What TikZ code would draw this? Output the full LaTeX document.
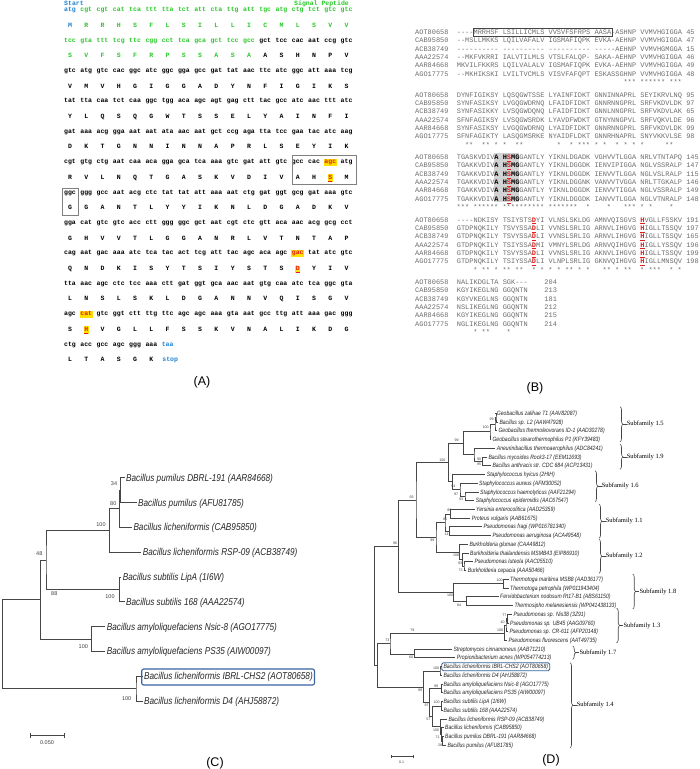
\documentclass[tikz,border=0pt]{standalone}
\usepackage{fontspec}
\usetikzlibrary{decorations.pathreplacing}
\newfontfamily\seqfont{Liberation Mono}
\newfontfamily\treefont{Liberation Sans}[FakeStretch=0.82]
\newfontfamily\panelfont{Liberation Sans}
\newfontfamily\famfont{Liberation Serif}
\definecolor{sigGreen}{RGB}{40,200,40}
\definecolor{stBlue}{RGB}{30,130,210}
\definecolor{hlYellow}{RGB}{255,225,0}
\definecolor{hlRed}{RGB}{225,30,30}
\definecolor{alnGray}{RGB}{110,110,110}
\definecolor{brGray}{RGB}{70,70,70}
\definecolor{boxBlue}{RGB}{55,100,160}
% highlighted codon / residue
\newcommand\hlc[1]{{\setlength\fboxsep{0.6pt}\colorbox{hlYellow}{\color{hlRed}\vphantom{tg}#1}}}
\newcommand\hla[1]{{\setlength\fboxsep{0.6pt}\colorbox{hlYellow}{\color{hlRed}\underline{#1}}}}
\newcommand\blk[1]{\textcolor{black}{#1}}
% alignment marks
\newcommand\hb[1]{{\bfseries\color{black}#1}}
\newcommand\hs[1]{{\bfseries\color{hlRed}\underline{#1}}}
% one codon row and its residue row
\newcommand\dnarow[4][]{%
  \foreach \cod [count=\i from 0] in {#3}
    \node[nt,#1] (n#2-\i) at ({70+16.27*\i},{10+30.4*#2}) {\cod};
  \foreach \res [count=\i from 0] in {#4}
    \node[aa,#1] (p#2-\i) at ({70+16.27*\i},{25.2+30.4*#2}) {\res};}
% conserved columns
\newcommand\starrow[3]{%
  \foreach \col in {#3}
    \node[aln,anchor=center] (st#1-\col) at ({456.7+(\col+0.5)*4.17},#2) {*};}
\begin{document}
\begin{tikzpicture}[x=1pt, y=-1pt,
  nt/.style={font={\seqfont\bfseries\fontsize{6.5}{7}\selectfont}, inner sep=0pt, text height=3.4pt, text depth=0pt},
  aa/.style={nt, text height=4.3pt},
  sig/.style={text=sigGreen},
  aln/.style={font={\seqfont\fontsize{6.95}{8}\selectfont}, text=alnGray, inner sep=0pt, anchor=west, text height=4.6pt, text depth=0pt},
  branch/.style={draw=brGray, line width=0.6pt},
  leafC/.style={font={\treefont\itshape\fontsize{10}{12}\selectfont}, anchor=west, inner xsep=1.5pt, inner ysep=0pt, text height=7.2pt, text depth=0pt, text=black!85},
  leafD/.style={leafC, font={\treefont\itshape\fontsize{6.2}{7}\selectfont}, text height=4.4pt},
  bsC/.style={font={\panelfont\fontsize{5.5}{6}\selectfont}, text=black!75, inner sep=0pt},
  bsD/.style={bsC, font={\panelfont\fontsize{3.6}{4}\selectfont}},
  fam/.style={font={\famfont\fontsize{6.5}{7}\selectfont}, anchor=west, inner sep=0pt},
  brc/.style={decorate, decoration={brace, amplitude=3pt}, draw=brGray, line width=0.6pt},
  panel/.style={font={\panelfont\fontsize{12.5}{14}\selectfont}, inner sep=0pt}]
\useasboundingbox (0,0) rectangle (700,769);
\fill[white] (0,0) rectangle (700,769);

% ---------------- (A) nucleotide and protein sequence
\node[aa, anchor=west, text=stBlue] (start) at (64,3.5) {Start};
\node[aa, anchor=west, text=sigGreen] (sigpep) at (294,3.5) {Signal Peptide};
\dnarow[sig]{0}{{\color{stBlue}atg},cgt,cgt,cat,tca,ttt,tta,tct,att,cta,ttg,att,tgc,atg,ctg,tct,gtc,gtc}
  {{\color{stBlue}M},R,R,H,S,F,L,S,I,L,L,I,C,M,L,S,V,V}
\dnarow[sig]{1}{tcc,gta,ttt,tcg,ttc,cgg,cct,tca,gca,gct,tcc,gcc,\blk{gct},\blk{tcc},\blk{cac},\blk{aat},\blk{ccg},\blk{gtc}}
  {S,V,F,S,F,R,P,S,S,A,S,A,\blk{A},\blk{S},\blk{H},\blk{N},\blk{P},\blk{V}}
\dnarow{2}{gtc,atg,gtc,cac,ggc,atc,ggc,gga,gcc,gat,tat,aac,ttc,atc,ggc,att,aaa,tcg}
  {V,M,V,H,G,I,G,G,A,D,Y,N,F,I,G,I,K,S}
\dnarow{3}{tat,tta,caa,tct,caa,ggc,tgg,aca,agc,agt,gag,ctt,tac,gcc,atc,aac,ttt,atc}
  {Y,L,Q,S,Q,G,W,T,S,S,E,L,Y,A,I,N,F,I}
\dnarow{4}{gat,aaa,acg,gga,aat,aat,ata,aac,aat,gct,ccg,aga,tta,tcc,gaa,tac,atc,aag}
  {D,K,T,G,N,N,I,N,N,A,P,R,L,S,E,Y,I,K}
\dnarow{5}{cgt,gtg,ctg,aat,caa,aca,gga,gca,tca,aaa,gtc,gat,att,gtc,gcc,cac,\hlc{agc},atg}
  {R,V,L,N,Q,T,G,A,S,K,V,D,I,V,A,H,\hla{S},M}
\dnarow{6}{ggc,ggg,gcc,aat,acg,ctc,tat,tat,att,aaa,aat,ctg,gat,ggt,gcg,gat,aaa,gtc}
  {G,G,A,N,T,L,Y,Y,I,K,N,L,D,G,A,D,K,V}
\dnarow{7}{gga,cat,gtc,gtc,acc,ctt,ggg,ggc,gct,aat,cgt,ctc,gtt,aca,aac,acg,gcg,cct}
  {G,H,V,V,T,L,G,G,A,N,R,L,V,T,N,T,A,P}
\dnarow{8}{cag,aat,gac,aaa,atc,tca,tac,act,tcg,att,tac,agc,aca,agc,\hlc{gac},tat,atc,gtc}
  {Q,N,D,K,I,S,Y,T,S,I,Y,S,T,S,\hla{D},Y,I,V}
\dnarow{9}{tta,aac,agc,ctc,tcc,aaa,ctt,gat,ggt,gca,aac,aat,gtg,caa,atc,tca,ggc,gta}
  {L,N,S,L,S,K,L,D,G,A,N,N,V,Q,I,S,G,V}
\dnarow{10}{agc,\hlc{cat},gtc,ggt,ctt,ttg,ttc,agc,agc,aaa,gta,aat,gcc,ttg,att,aaa,gac,ggg}
  {S,\hla{H},V,G,L,L,F,S,S,K,V,N,A,L,I,K,D,G}
\dnarow{11}{ctg,acc,gcc,agc,ggg,aaa,{\color{stBlue}taa}}{L,T,A,S,G,K}
\node[aa, anchor=west, text=stBlue] (stop) at (162.2,359.6) {stop};
\draw[gray, line width=0.7pt] (292,155) rectangle (356,184);
\draw[gray, line width=0.7pt] (62,188) rectangle (78,215);
\node[panel] (labA) at (202,382) {(A)};

% ---------------- (B) alignment
\fill[gray!35] (494,153) rectangle (519.4,202);
\foreach \s [count=\r from 0] in {
  {AOT80658~~----MRRHSF LSILLICMLS VVSVFSFRPS AASA-ASHNP VVMVHGIGGA 45},
  {CAB95850~~--MSLLMKKS LQILVAFALV IGSMAFIQPK EVKA-AEHNP VVMVHGIGGA 47},
  {ACB38749~~---------- ---------- ---------- -----AEHNP VVMVHGMGGA 15},
  {AAA22574~~--MKFVKRRI IALVTILMLS VTSLFALQP- SAKA-AEHNP VVMVHGIGGA 46},
  {AAR84668~~MKVILFKKRS LQILVALALV IGSMAFIQPK EVKA-AEHNP VVMVHGIGGA 49},
  {AGO17775~~--MKHIKSKI LVILTVCMLS VISVFAFQPT ESKASSGHNP VVMVHGIGGA 48}}
  \node[aln] (a0-\r) at (415,{32.3+8.33*\r}) {\s};
\starrow{0}{82.3}{40,41,42,44,45,46,47,48,49,51,52,53}
\draw[brGray, line width=0.6pt] (473,28.3) rectangle (612,36.7);
\foreach \s [count=\r from 0] in {
  {AOT80658~~DYNFIGIKSY LQSQGWTSSE LYAINFIDKT GNNINNAPRL SEYIKRVLNQ 95},
  {CAB95850~~SYNFASIKSY LVGQGWDRNQ LFAIDFIDKT GNNRNNGPRL SRFVKDVLDK 97},
  {ACB38749~~SYNFASIKKY LVSQGWDQNQ LFAIDFIDKT GNNLNNGPRL SRFVKDVLAK 65},
  {AAA22574~~SFNFAGIKSY LVSQGWSRDK LYAVDFWDKT GTNYNNGPVL SRFVQKVLDE 96},
  {AAR84668~~SYNFASIKSY LVGQGWDRNQ LYAIDFIDKT GNNRNNGPRL SRFVKDVLDK 99},
  {AGO17775~~SFNFAGIKTY LASQGMSRKE NYAIDFLDKT GNNRHNAPRL SNYVKKVLSE 98}}
  \node[aln] (a1-\r) at (415,{94.8+8.33*\r}) {\s};
\starrow{1}{144.8}{2,3,6,7,9,11,14,15,24,27,29,30,31,33,35,38,40,42,44,50,51}
\foreach \s [count=\r from 0] in {
  {AOT80658~~TGASKVDIV\hb{A} \hb{H}\hs{S}\hb{MG}GANTLY YIKNLDGADK VGHVVTLGGA NRLVTNTAPQ 145},
  {CAB95850~~TGAKKVDIV\hb{A} \hb{H}\hs{S}\hb{MG}GANTLY YIKNLDGGDK IENVIPIGGA NGLVSSRALP 147},
  {ACB38749~~TGAKKVDIV\hb{A} \hb{H}\hs{S}\hb{MG}GANTLY YIKNLDGGDK IENVVTLGGA NGLVSLRALP 115},
  {AAA22574~~TGAKKVDIV\hb{A} \hb{H}\hs{S}\hb{MG}GANTLY YIKNLDGGNK VANVVTVGGA NRLTTGKALP 146},
  {AAR84668~~TGAKKVDIV\hb{A} \hb{H}\hs{S}\hb{MG}GANTLY YIKNLDGGDK IENVVTIGGA NGLVSSRALP 149},
  {AGO17775~~TGAKKVDIV\hb{A} \hb{H}\hs{S}\hb{MG}GANTLY YIKNLDGGDK IANVVTLGGA NGLVTNRALP 148}}
  \node[aln] (a2-\r) at (415,{157.3+8.33*\r}) {\s};
\starrow{2}{207.3}{0,1,2,4,5,6,7,8,9,11,12,13,14,15,16,17,18,19,20,22,23,24,25,26,27,28,31,36,40,41,42,44,46,51}
\foreach \s [count=\r from 0] in {
  {AOT80658~~----NDKISY TSIYSTS\hs{D}YI VLNSLSKLDG AMNVQISGVS \hs{H}VGLLFSSKV 191},
  {CAB95850~~GTDPNQKILY TSVYSSA\hs{D}LI VVNSLSRLIG ARNVLIHGVG \hs{H}IGLLTSSQV 197},
  {ACB38749~~GTDPNQKILY TSVYSSA\hs{D}LI VVNSLSRLIG ARNVLIHGVG \hs{H}IGLLTSSQV 165},
  {AAA22574~~GTDPNQKILY TSIYSSA\hs{D}MI VMNYLSRLDG ARNVQIHGVG \hs{H}IGLLYSSQV 196},
  {AAR84668~~GTDPNQKILY TSVYSSA\hs{D}LI VVNSLSRLIG AKNVLIHGVG \hs{H}IGLLTSSQV 199},
  {AGO17775~~GTDPNQKILY TSIYSSA\hs{D}LI VLNPLSRLIG GKNVQIHGVG \hs{H}IGLLMNSQV 198}}
  \node[aln] (a3-\r) at (415,{219.8+8.33*\r}) {\s};
\starrow{3}{269.8}{4,6,7,9,11,12,14,15,18,20,22,24,26,27,29,31,35,36,38,40,41,44,46,47,48,51,53}
\foreach \s [count=\r from 0] in {
  {AOT80658~~NALIKDGLTA SGK---~~~~204},
  {CAB95850~~KGYIKEGLNG GGQNTN~~~~213},
  {ACB38749~~KGYVKEGLNS GGQNTN~~~~181},
  {AAA22574~~NSLIKEGLNG GGQNTN~~~~212},
  {AAR84668~~KGYIKEGLNG GGQNTN~~~~215},
  {AGO17775~~NGLIKEGLNG GGQNTN~~~~214}}
  \node[aln] (a4-\r) at (415,{282.3+8.33*\r}) {\s};
\starrow{4}{332.3}{4,6,7,12}
\node[panel] (labB) at (535,388) {(B)};

% ---------------- (C) tree of the Bacillus lipases
\foreach \tx/\lab [count=\i] in {126/{Bacillus pumilus DBRL-191 (AAR84668)},
  138/{Bacillus pumilus (AFU81785)}, 133.3/{Bacillus licheniformis (CAB95850)},
  142.7/{Bacillus licheniformis RSP-09 (ACB38749)}, 122.7/{Bacillus subtilis LipA (1I6W)},
  126/{Bacillus subtilis 168 (AAA22574)}, 106.7/{Bacillus amyloliquefaciens Nsic-8 (AGO17775)},
  106.7/{Bacillus amyloliquefaciens PS35 (AIW00097)}, 144/{Bacillus licheniformis IBRL-CHS2 (AOT80658)},
  144/{Bacillus licheniformis D4 (AHJ58872)}}
  {\coordinate (c\i) at ({\tx-1.5},{477.7+24.8*(\i-1)});
   \node[leafC] (ct\i) at (c\i) {\lab};}
\coordinate (cn12) at (120.3,490.1);
\coordinate (cn123) at (119.3,508.7);
\coordinate (cn1234) at (109.3,530.4);
\coordinate (cn56) at (119.3,589.3);
\coordinate (cn16) at (46,559.9);
\coordinate (cn78) at (91.7,638.9);
\coordinate (cn18) at (40.7,599.4);
\coordinate (cn910) at (136,688.5);
\coordinate (cnroot) at (2.7,644);
\draw[branch] (c1) -| (cn12) |- (c2);
\draw[branch] (cn12) -| (cn123) |- (c3);
\draw[branch] (cn123) -| (cn1234) |- (c4);
\draw[branch] (c5) -| (cn56) |- (c6);
\draw[branch] (cn1234) -| (cn16) |- (cn56);
\draw[branch] (c7) -| (cn78) |- (c8);
\draw[branch] (cn16) -| (cn18) |- (cn78);
\draw[branch] (c9) -| (cn910) |- (c10);
\draw[branch] (cn18) -| (cnroot) |- (cn910);
\node[bsC] (bc1) at (114,483.3) {34};
\node[bsC] (bc2) at (113.3,503.3) {80};
\node[bsC] (bc3) at (101,525) {100};
\node[bsC] (bc4) at (39.3,554) {48};
\node[bsC] (bc5) at (54.3,594) {88};
\node[bsC] (bc6) at (110,596.7) {100};
\node[bsC] (bc7) at (83.3,646.7) {100};
\node[bsC] (bc8) at (126.7,699) {100};
\draw[boxBlue, line width=1.1pt, rounded corners=2pt] (141.7,669) rectangle (ct9.east |- 0,685);
\coordinate (sc1) at (30,735);
\coordinate (sc2) at (64,735);
\draw[branch] (sc1) -- (sc2);
\draw[branch] ([yshift=-2.5pt]sc1) -- ([yshift=2.5pt]sc1);
\draw[branch] ([yshift=-2.5pt]sc2) -- ([yshift=2.5pt]sc2);
\node[bsC] (scC) at (47,743) {0.050};
\node[panel] (labC) at (215,763) {(C)};

% ---------------- (D) tree of the lipase families
\foreach \tx/\lab [count=\i] in {496.7/{Geobacillus zalihae T1 (AAV82087)},
  499.3/{Bacillus sp. L2 (AAW47928)}, 498.3/{Geobacillus thermoleovorans ID-1 (AAD30278)},
  492.3/{Geobacillus stearothermophilus P1 (KFY39483)}, 496.7/{Aneurinibacillus thermoaerophilus (ADC84241)},
  488.3/{Bacillus mycoides Rock3-17 (EEM11693)}, 492.3/{Bacillus anthracis str. CDC 684 (ACP13431)},
  486.7/{Staphylococcus hyicus (2HIH)}, 479/{Staphylococcus aureus (AFM30052)},
  480/{Staphylococcus haemolyticus (AAF21294)}, 475.7/{Staphylococcus epidermidis (AAC67547)},
  476/{Yersinia enterocolitica (AAD25359)}, 471.7/{Proteus vulgaris (AAB61675)},
  483.3/{Pseudomonas fragi (WP016781340)}, 492.3/{Pseudomonas aeruginosa (ACA49548)},
  469.3/{Burkholderia glumae (CAA49812)}, 470/{Burkholderia thailandensis MSMB43 (EIP86910)},
  474.3/{Pseudomonas luteola (AAC05510)}, 467.7/{Burkholderia cepacia (AAA50466)},
  510/{Thermotoga maritima MSB8 (AAD36177)}, 510/{Thermotoga petrophila (WP011943404)},
  500/{Fervidobacterium nodosum Rt17-B1 (ABS61150)}, 514.3/{Thermosipho melanesiensis (WP041438133)},
  513.3/{Pseudomonas sp. Nis38 (3Z91)}, 510/{Pseudomonas sp. UB45 (AAG09760)},
  509.3/{Pseudomonas sp. CR-611 (AFP20148)}, 508.3/{Pseudomonas fluorescens (AAT49735)},
  453.3/{Streptomyces cinnamoneus (AAB71210)}, 456.7/{Propionibacterium acnes (WP054774213)},
  443.3/{Bacillus licheniformis IBRL-CHS2 (AOT80658)}, 443.3/{Bacillus licheniformis D4 (AHJ58872)},
  443.3/{Bacillus amyloliquefaciens Nsic-8 (AGO17775)}, 443.3/{Bacillus amyloliquefaciens PS35 (AIW00097)},
  443.3/{Bacillus subtilis LipA (1I6W)}, 443.3/{Bacillus subtilis 168 (AAA22574)},
  448.3/{Bacillus licheniformis RSP-09 (ACB38749)}, 445/{Bacillus licheniformis (CAB95850)},
  445/{Bacillus pumilus DBRL-191 (AAR84668)}, 447.3/{Bacillus pumilus (AFU81785)}}
  {\coordinate (d\i) at ({\tx-1.5},{413.3+8.73*(\i-1)});
   \node[leafD] (dt\i) at (d\i) {\lab};}
\coordinate (D12) at (496,417.7);
\coordinate (D13) at (495,424.2);
\coordinate (D14) at (490,431.6);
\coordinate (D67) at (482.3,461);
\coordinate (D57) at (474,454.4);
\coordinate (D17) at (463.3,443);
\coordinate (D1011) at (465,496);
\coordinate (D911) at (460,489.4);
\coordinate (D811) at (452.7,481.7);
\coordinate (D111) at (448.3,462.4);
\coordinate (D1213) at (450.7,514);
\coordinate (D1415) at (449.3,531.4);
\coordinate (D1215) at (445,522.7);
\coordinate (D1819) at (464,566);
\coordinate (D1719) at (462.3,559.5);
\coordinate (D1619) at (459.3,551.9);
\coordinate (D1219) at (436,537.3);
\coordinate (DX1) at (416,499.9);
\coordinate (D2021) at (503.3,583.4);
\coordinate (D2223) at (466.7,601);
\coordinate (D2023) at (453.3,592.2);
\coordinate (DX2) at (398.3,546);
\coordinate (D2425) at (507.5,618.7);
\coordinate (D2426) at (506,625.3);
\coordinate (D2427) at (504.5,633);
\coordinate (D2829) at (414.3,654);
\coordinate (DY) at (390,643.5);
\coordinate (D3031) at (440,671.3);
\coordinate (D3233) at (441.7,688.5);
\coordinate (D3435) at (441.7,706);
\coordinate (D3839) at (442.5,740.9);
\coordinate (D3739) at (441.5,734.3);
\coordinate (D3639) at (440.5,726.6);
\coordinate (DS) at (432.5,716.3);
\coordinate (DR) at (429.5,702.4);
\coordinate (DB) at (423.3,686.9);
\coordinate (DQ) at (377.7,665.2);
\coordinate (Droot) at (374.3,605.6);
\draw[branch] (d1) -| (D12) |- (d2);
\draw[branch] (D12) -| (D13) |- (d3);
\draw[branch] (D13) -| (D14) |- (d4);
\draw[branch] (d6) -| (D67) |- (d7);
\draw[branch] (d5) -| (D57) |- (D67);
\draw[branch] (D14) -| (D17) |- (D57);
\draw[branch] (d10) -| (D1011) |- (d11);
\draw[branch] (d9) -| (D911) |- (D1011);
\draw[branch] (d8) -| (D811) |- (D911);
\draw[branch] (D17) -| (D111) |- (D811);
\draw[branch] (d12) -| (D1213) |- (d13);
\draw[branch] (d14) -| (D1415) |- (d15);
\draw[branch] (D1213) -| (D1215) |- (D1415);
\draw[branch] (d18) -| (D1819) |- (d19);
\draw[branch] (d17) -| (D1719) |- (D1819);
\draw[branch] (d16) -| (D1619) |- (D1719);
\draw[branch] (D1215) -| (D1219) |- (D1619);
\draw[branch] (D111) -| (DX1) |- (D1219);
\draw[branch] (d20) -| (D2021) |- (d21);
\draw[branch] (d22) -| (D2223) |- (d23);
\draw[branch] (D2021) -| (D2023) |- (D2223);
\draw[branch] (DX1) -| (DX2) |- (D2023);
\draw[branch] (d24) -| (D2425) |- (d25);
\draw[branch] (D2425) -| (D2426) |- (d26);
\draw[branch] (D2426) -| (D2427) |- (d27);
\draw[branch] (d28) -| (D2829) |- (d29);
\draw[branch] (D2427) -| (DY) |- (D2829);
\draw[branch] (d30) -| (D3031) |- (d31);
\draw[branch] (d32) -| (D3233) |- (d33);
\draw[branch] (d34) -| (D3435) |- (d35);
\draw[branch] (d38) -| (D3839) |- (d39);
\draw[branch] (d37) -| (D3739) |- (D3839);
\draw[branch] (d36) -| (D3639) |- (D3739);
\draw[branch] (D3435) -| (DS) |- (D3639);
\draw[branch] (D3233) -| (DR) |- (DS);
\draw[branch] (D3031) -| (DB) |- (DR);
\draw[branch] (DY) -| (DQ) |- (DB);
\draw[branch] (DX2) -| (Droot) |- (DQ);
\foreach \bx/\by/\bv [count=\i] in {491.7/419/99, 485.7/427.7/100, 456.7/440/99, 479/459/90,
  479/464/95, 442.3/460/100, 453.3/486/94, 456/494.3/97, 461/499/93, 411.7/497.5/93,
  449.3/510.7/85, 445/519/81, 446.7/534/14, 432.3/540/99, 456/555.7/100, 460/563/93,
  460.7/570/73, 395/543.3/96, 499.5/580.5/100, 450/595.5/100,
  459/605/84, 504.3/615/77, 502.7/622.7/40, 500/630.7/100, 412.3/630.7/79,
  387.3/640/73, 411/657/60, 436/668.3/100, 436/686.7/99, 420/690.5/99, 426.7/705.7/97,
  436.7/702.3/100, 428.3/719.3/57, 436/730/100, 437.7/737.3/71, 440/745/28}
  \node[bsD] (bd\i) at (\bx,\by) {\bv};
\draw[boxBlue, line width=0.9pt, rounded corners=1.5pt] (441.7,662.7) rectangle (dt30.east |- 0,670.7);
% subfamily braces
\foreach \fx/\ft/\fb/\fn [count=\k] in {620/406.7/441.7/1.5, 620/444.3/469.3/1.9, 595/470.7/501.7/1.6,
  599/504.3/538.3/1.1, 599/539.3/573.3/1.2, 632.7/574/609/1.8, 616.7/608.3/642.7/1.3,
  572.7/646/659.3/1.7, 570/662.7/747.7/1.4}
  {\draw[brc] (\fx,\ft) -- (\fx,\fb);
   \coordinate (ft\k) at ({\fx+3},{(\ft+\fb)/2});
   \draw[branch] (ft\k) -- ++(3.5,0) node[fam] (fl\k) {Subfamily \fn};}
\coordinate (sd1) at (391.7,756.7);
\coordinate (sd2) at (413.3,756.7);
\draw[branch] (sd1) -- (sd2);
\draw[branch] ([yshift=-1.5pt]sd1) -- ([yshift=1.5pt]sd1);
\draw[branch] ([yshift=-1.5pt]sd2) -- ([yshift=1.5pt]sd2);
\node[bsD] (scD) at (401.7,762.3) {0.1};
\node[panel] (labD) at (551,760) {(D)};
\end{tikzpicture}
\end{document}
